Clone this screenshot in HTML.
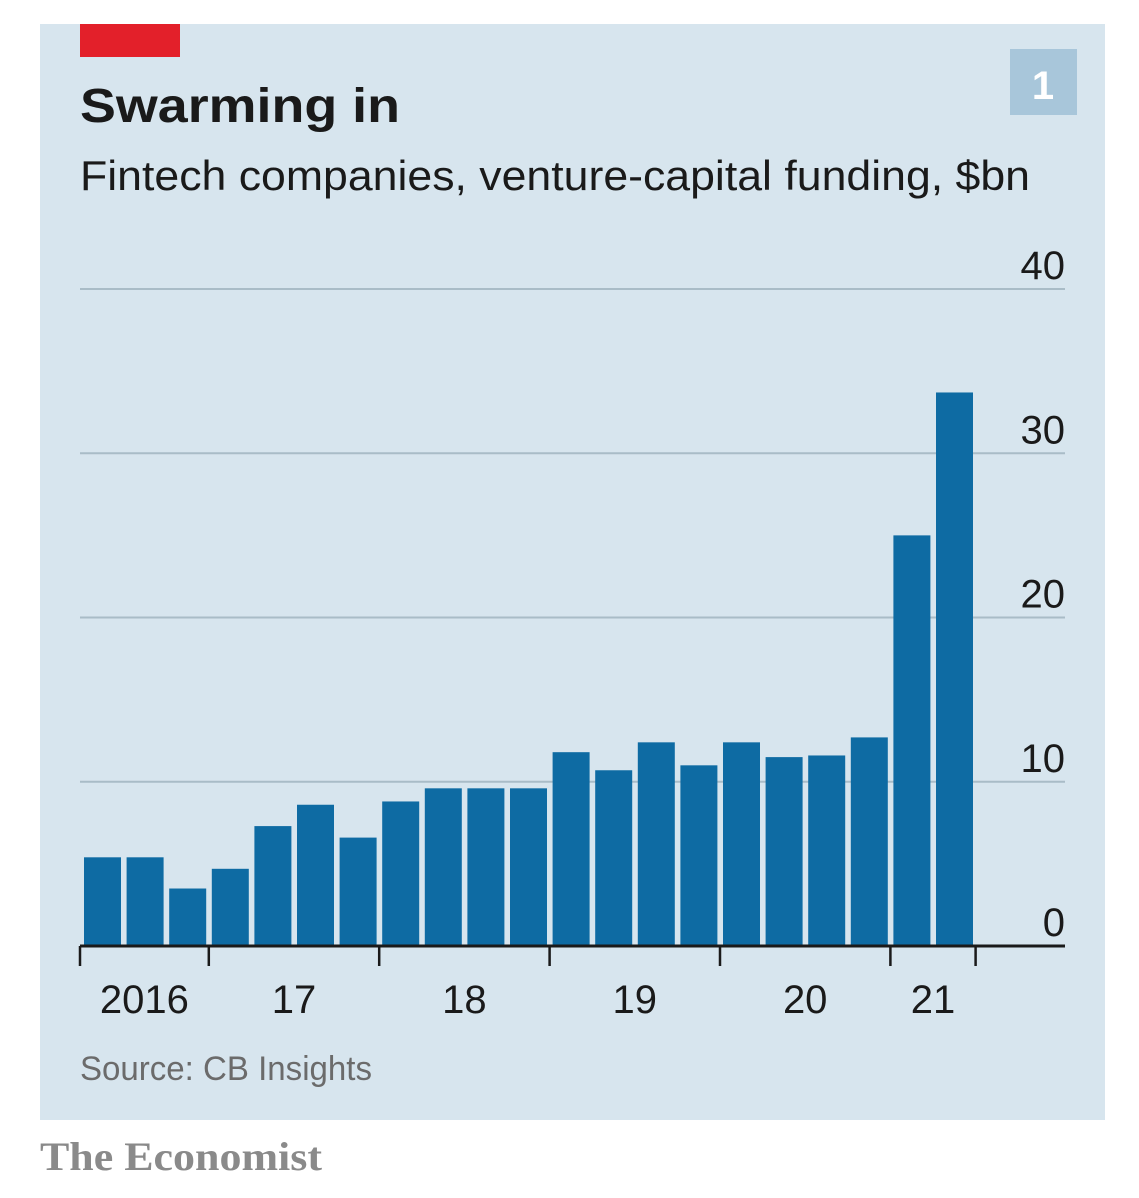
<!DOCTYPE html>
<html><head><meta charset="utf-8"><style>
html,body{margin:0;padding:0;background:#fff;}
svg{display:block;}
text{font-family:"Liberation Sans",sans-serif;}
</style></head><body>
<svg id="chart" width="1139" height="1198" viewBox="0 0 1139 1198" xmlns="http://www.w3.org/2000/svg">
<rect x="40" y="24" width="1065" height="1096" fill="#d7e5ee"/>
<rect x="80" y="24" width="100" height="33" fill="#e3202a"/>
<rect x="1010" y="49" width="67" height="66" fill="#a8c6da"/>
<text x="1043" y="99" font-size="40" font-weight="bold" fill="#fff" text-anchor="middle">1</text>
<text x="80" y="122" font-size="48" font-weight="bold" fill="#1a1a1a" textLength="320" lengthAdjust="spacingAndGlyphs">Swarming in</text>
<text x="80" y="190" font-size="42" fill="#1a1a1a" textLength="950" lengthAdjust="spacingAndGlyphs">Fintech companies, venture-capital funding, $bn</text>
<g id="grid"></g>
<g id="bars"></g>
<g id="xaxis"></g>
<text x="80" y="1080" font-size="34" fill="#6b6b6b" textLength="292" lengthAdjust="spacingAndGlyphs">Source: CB Insights</text>
<text x="40" y="1170" font-size="40" fill="#8a8a8a" font-family="Liberation Serif, serif" font-weight="bold" textLength="282" lengthAdjust="spacingAndGlyphs" style="font-family:'Liberation Serif',serif">The Economist</text>
</svg>
<script>
const values = [5.4,5.4,3.5,4.7,7.3,8.6,6.6,8.8,9.6,9.6,9.6,11.8,10.7,12.4,11.0,12.4,11.5,11.6,12.7,25.0,33.7];
const yTicks = [0,10,20,30,40];
const yearLabels = ["2016","17","18","19","20","21"];
const yearQuarters = [3,4,4,4,4,2];
const NS="http://www.w3.org/2000/svg";
const x0=80, step=42.6, barW=37, y0=946, pxPer=16.425;
const y=v=>y0-v*pxPer;
const xs=i=>x0+4+i*step;
function mk(tag,attrs,parent){const e=document.createElementNS(NS,tag);for(const k in attrs)e.setAttribute(k,attrs[k]);parent.appendChild(e);return e;}
const grid=document.getElementById('grid'),bars=document.getElementById('bars'),xa=document.getElementById('xaxis');
yTicks.forEach(t=>{
  if(t>0){const l=mk('line',{x1:80,x2:1065,y1:y(t),y2:y(t),stroke:'#a9bcc7','stroke-width':2},grid);
  
  }
  const tx=mk('text',{x:1065,y:y(t)-10,'font-size':40,fill:'#1a1a1a','text-anchor':'end'},grid);
  tx.textContent=t;
  
  
});
values.forEach((v,i)=>{
  const r=mk('rect',{x:xs(i),y:y(v),width:barW,height:v*pxPer,fill:'#0e6ba3'},bars);
  
  
});
const ax=mk('line',{x1:80,x2:1065,y1:y0,y2:y0,stroke:'#1a1a1a','stroke-width':3},xa);


let q=0;
const tickX=k=>k===0?80:x0+4+k*step-3;
for(let j=0;j<=yearLabels.length;j++){
  const tx=tickX(q);
  const t=mk('line',{x1:tx,x2:tx,y1:y0,y2:966,stroke:'#1a1a1a','stroke-width':2.5},xa);
  
  
  if(j<yearLabels.length){
    const nq=q+yearQuarters[j];
    const lb=mk('text',{x:(tx+tickX(nq))/2,y:1013,'font-size':40,fill:'#1a1a1a','text-anchor':'middle'},xa);
    lb.textContent=yearLabels[j];
    
    
    q=nq;
  }
}
</script>
</body></html>
